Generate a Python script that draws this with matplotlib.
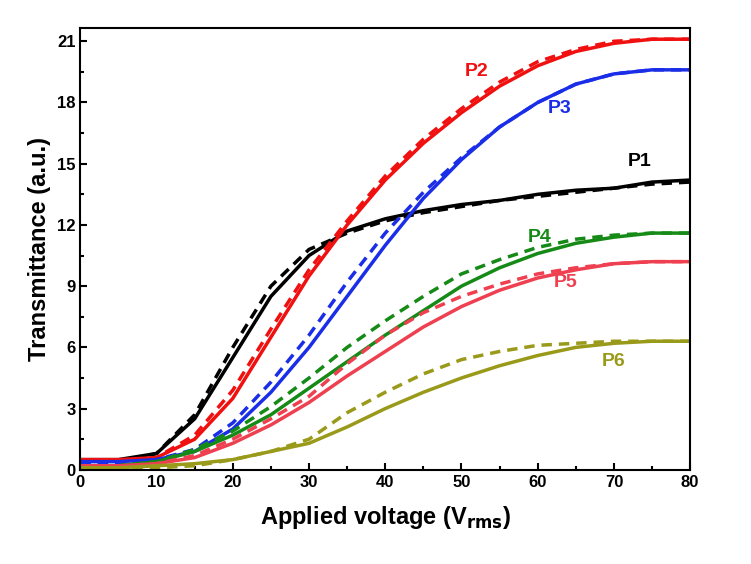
import matplotlib
matplotlib.use('Agg')
import matplotlib.pyplot as plt
from matplotlib.ticker import MultipleLocator

plt.rcParams['font.family'] = ['Liberation Sans', 'DejaVu Sans']
plt.rcParams['font.weight'] = 'bold'

volts = [0, 5, 10, 15, 20, 25, 30, 35, 40, 45, 50, 55, 60, 65, 70, 75, 80]

p1 = [0.5, 0.5, 0.8, 2.5, 5.5, 8.5, 10.5, 11.7, 12.3, 12.7, 13.0, 13.2, 13.5, 13.7, 13.8, 14.1, 14.2]
p1d = [0.4, 0.4, 0.8, 2.7, 6.0, 9.0, 10.8, 11.6, 12.2, 12.6, 12.9, 13.2, 13.4, 13.6, 13.8, 14.0, 14.1]
p2 = [0.5, 0.5, 0.6, 1.5, 3.5, 6.5, 9.5, 12.0, 14.2, 16.0, 17.5, 18.8, 19.8, 20.5, 20.9, 21.1, 21.1]
p2d = [0.4, 0.4, 0.6, 1.7, 3.9, 6.9, 9.8, 12.2, 14.4, 16.2, 17.7, 19.0, 20.0, 20.6, 21.0, 21.1, 21.1]
p3 = [0.4, 0.4, 0.5, 0.9, 2.0, 3.8, 6.0, 8.5, 11.0, 13.3, 15.2, 16.8, 18.0, 18.9, 19.4, 19.6, 19.6]
p3d = [0.3, 0.3, 0.5, 1.0, 2.3, 4.3, 6.6, 9.2, 11.6, 13.6, 15.3, 16.8, 18.0, 18.9, 19.4, 19.6, 19.6]
p4 = [0.2, 0.2, 0.4, 0.9, 1.7, 2.7, 4.0, 5.3, 6.6, 7.8, 9.0, 9.9, 10.6, 11.1, 11.4, 11.6, 11.6]
p4d = [0.1, 0.2, 0.4, 1.0, 1.9, 3.1, 4.5, 6.0, 7.3, 8.5, 9.6, 10.3, 10.9, 11.3, 11.5, 11.6, 11.6]
p5 = [0.2, 0.2, 0.3, 0.6, 1.3, 2.2, 3.3, 4.6, 5.8, 7.0, 8.0, 8.8, 9.4, 9.8, 10.1, 10.2, 10.2]
p5d = [0.1, 0.1, 0.3, 0.7, 1.5, 2.5, 3.6, 5.2, 6.6, 7.7, 8.5, 9.1, 9.6, 9.9, 10.1, 10.2, 10.2]
p6 = [0.1, 0.1, 0.2, 0.3, 0.5, 0.9, 1.3, 2.1, 3.0, 3.8, 4.5, 5.1, 5.6, 6.0, 6.2, 6.3, 6.3]
p6d = [0.0, 0.0, 0.1, 0.2, 0.5, 0.9, 1.5, 2.8, 3.8, 4.7, 5.4, 5.8, 6.1, 6.2, 6.3, 6.3, 6.3]

series = [
    (p1, p1d, 'black', 'P1', (73.4, 15.1)),
    (p2, p2d, '#f01010', 'P2', (52.0, 19.5)),
    (p3, p3d, '#1a2ee8', 'P3', (62.9, 17.7)),
    (p4, p4d, '#168a16', 'P4', (60.3, 11.4)),
    (p5, p5d, '#ee4050', 'P5', (63.6, 9.2)),
    (p6, p6d, '#9a9a1a', 'P6', (70.0, 5.3)),
]

fig = plt.figure(figsize=(7.51, 5.64), dpi=100)
ax = fig.add_axes([0.107, 0.167, 0.812, 0.783])
for solid, dashed, col, name, pos in series:
    ax.plot(volts, solid, color=col, lw=2.5)
    ax.plot(volts, dashed, color=col, lw=2.5, ls='--', dashes=(3, 2))
    ax.text(pos[0], pos[1], name, color=col, fontsize=14, fontweight='bold',
            ha='center', va='center')

ax.set_xlim(0, 80)
ax.set_ylim(0, 21.64)
ax.xaxis.set_major_locator(MultipleLocator(10))
ax.xaxis.set_minor_locator(MultipleLocator(5))
ax.yaxis.set_major_locator(MultipleLocator(3))
ax.yaxis.set_minor_locator(MultipleLocator(1.5))
ax.tick_params(direction='in', which='both', labelsize=12, width=1.5)
ax.tick_params(which='major', length=5)
ax.tick_params(which='minor', length=3)
for s in ax.spines.values():
    s.set_linewidth(1.5)
ax.set_xlabel('Applied voltage (V$_{\\mathbf{rms}}$)', fontsize=17, fontweight='bold', labelpad=10)
ax.set_ylabel('Transmittance (a.u.)', fontsize=17, fontweight='bold')

fig.savefig('out.png', dpi=100)
